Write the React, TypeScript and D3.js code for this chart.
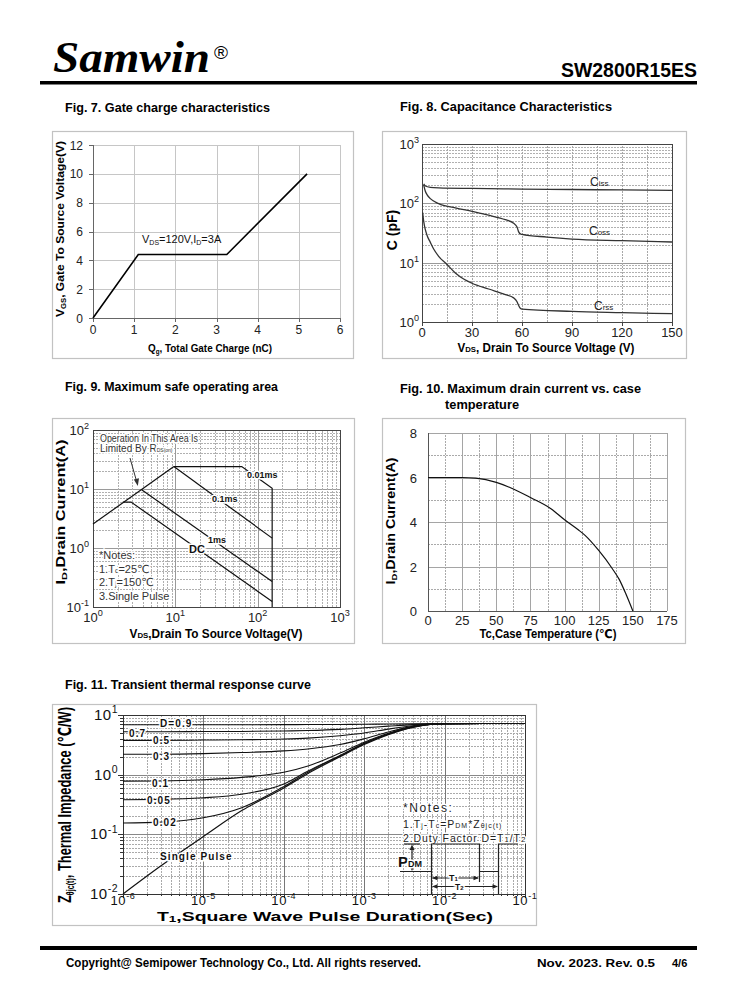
import React from "react";
import * as d3 from "d3";

const SANS = "'Liberation Sans', Arial, 'DejaVu Sans', sans-serif";
const SERIF = "'Liberation Serif', 'Times New Roman', serif";

// ---------- Fig. 7 : gate charge ----------
const gateCharge = [0, 1.1, 3.25, 5.2];
const gateVoltage = [0, 4.4, 4.4, 10];
const gateXTicks = [0, 1, 2, 3, 4, 5, 6];
const gateYTicks = [0, 2, 4, 6, 8, 10, 12];

// ---------- Fig. 8 : capacitance ----------
const cissVds = [1, 2, 5, 10, 30, 60, 90, 120, 150];
const cissCap = [212, 196, 186, 182, 178, 174, 171, 168, 165];
const cossVds = [1, 2, 3, 5, 10, 20, 30, 40, 50, 55, 57, 58, 59, 60, 75, 90, 120, 150];
const cossCap = [205, 160, 140, 120, 99, 84, 73, 63, 53, 46, 40, 33, 30.5, 30, 27, 25, 23.5, 22.3];
const crssVds = [0.4, 1, 2, 3, 5, 7, 10, 15, 20, 25, 30, 40, 50, 55, 57, 58, 59, 60, 90, 120, 150];
const crssCap = [70, 50, 36, 29, 22, 17, 12.8, 9.3, 6.7, 5.3, 4.5, 3.6, 2.9, 2.55, 2.2, 1.9, 1.7, 1.65, 1.51, 1.44, 1.38];
const capXTicks = [0, 30, 60, 90, 120, 150];
const capYExps = [0, 1, 2, 3];

// ---------- Fig. 9 : safe operating area ----------
const rdsLimitVds = [1, 9.6];
const rdsLimitId = [2.55, 24];
const pulse10usVds = [9.6, 64, 150, 150];
const pulse10usId = [24, 24, 10.3, 0.1];
const pulse100usVds = [9.6, 150];
const pulse100usId = [24, 1.47];
const pulse1msVds = [3.9, 150];
const pulse1msId = [9.7, 0.27];
const dcVds = [2.3, 2.9, 150];
const dcId = [6, 6, 0.124];
const soaXExps = [0, 1, 2, 3];
const soaYExps = [-1, 0, 1, 2];

// ---------- Fig. 10 : drain current vs case temperature ----------
const caseTemp = [0, 25, 35, 50, 60, 75, 90, 100, 110, 115, 125, 135, 140, 145, 150];
const drainCurrent = [6, 6, 5.97, 5.78, 5.55, 5.1, 4.6, 4.1, 3.65, 3.4, 2.72, 1.9, 1.42, 0.75, 0];
const tempXTicks = [0, 25, 50, 75, 100, 125, 150, 175];
const tempYTicks = [0, 2, 4, 6, 8];

// ---------- Fig. 11 : transient thermal impedance ----------
const pulseTime = [1e-6, 3e-6, 1e-5, 3e-5, 1e-4, 2e-4, 5e-4, 1e-3, 2e-3, 4e-3, 7e-3, 1e-2, 3e-2, 1e-1];
const zSingle = [0.01, 0.03, 0.092, 0.25, 0.6, 1.05, 2.0, 3.2, 4.7, 6.2, 7.0, 7.15, 7.2, 7.2];
const zD002 = [0.155, 0.16, 0.19, 0.28, 0.63, 1.1, 2.05, 3.3, 4.8, 6.25, 7.0, 7.15, 7.2, 7.2];
const zD005 = [0.38, 0.385, 0.41, 0.47, 0.7, 1.15, 2.1, 3.35, 4.85, 6.3, 7.0, 7.15, 7.2, 7.2];
const zD01 = [0.78, 0.785, 0.82, 0.9, 1.1, 1.4, 2.3, 3.5, 4.95, 6.35, 7.05, 7.15, 7.2, 7.2];
const zD03 = [2.2, 2.2, 2.25, 2.35, 2.5, 2.7, 3.2, 4.0, 5.2, 6.45, 7.05, 7.15, 7.2, 7.2];
const zD05 = [3.75, 3.75, 3.8, 3.85, 3.95, 4.1, 4.5, 5.0, 5.8, 6.6, 7.1, 7.15, 7.2, 7.2];
const zD07 = [5.25, 5.25, 5.28, 5.3, 5.4, 5.5, 5.75, 6.1, 6.5, 6.9, 7.1, 7.15, 7.2, 7.2];
const zD09 = [6.85, 6.85, 6.85, 6.87, 6.9, 6.92, 6.95, 7.0, 7.05, 7.1, 7.15, 7.18, 7.2, 7.2];
const zthXExps = [-6, -5, -4, -3, -2, -1];
const zthYExps = [-2, -1, 0, 1];
const dutyLabels = ["D=0.9", "0.7", "0.5", "0.3", "0.1", "0.05", "0.02", "Single Pulse"];

const p = (v: number) => Math.round(v) + 0.5;

function logValues(lo: number, hi: number) {
  const out: { v: number; major: boolean }[] = [];
  const e0 = Math.round(Math.log10(lo));
  const e1 = Math.round(Math.log10(hi));
  for (let e = e0; e < e1; e++) {
    for (let k = 1; k < 10; k++) out.push({ v: k * Math.pow(10, e), major: k === 1 });
  }
  out.push({ v: hi, major: true });
  return out;
}

const Pow = ({ exp, size }: { exp: number; size: number }) => (
  <>
    10
    <tspan dy={-size * 0.45} fontSize={size * 0.7}>
      {exp}
    </tspan>
  </>
);

function Title({ x, y, w, children }: any) {
  return (
    <text x={x} y={y} fontFamily={SANS} fontWeight="bold" fontSize={13} textLength={w} lengthAdjust="spacingAndGlyphs">
      {children}
    </text>
  );
}

function Box({ x, y, w, h }: any) {
  return <rect x={x + 0.5} y={y + 0.5} width={w} height={h} fill="#fff" stroke="#c2c2c2" strokeWidth={1.2} />;
}

function Fig7() {
  const x = d3.scaleLinear().domain([0, 6]).range([93, 340]);
  const y = d3.scaleLinear().domain([0, 12]).range([318, 145]);
  const line = d3
    .line<number>()
    .x((_, i) => x(gateCharge[i]))
    .y((d) => y(d));
  return (
    <g fontFamily={SANS}>
      {gateXTicks.map((t) => (
        <line key={"gx" + t} x1={p(x(t))} x2={p(x(t))} y1={y(0)} y2={y(12)} stroke="#c6c6c6" />
      ))}
      {gateYTicks.map((t) => (
        <line key={"gy" + t} x1={x(0)} x2={x(6)} y1={p(y(t))} y2={p(y(t))} stroke="#c6c6c6" />
      ))}
      <line x1={p(x(0))} x2={p(x(0))} y1={y(0)} y2={y(12)} stroke="#666" />
      <line x1={x(0)} x2={x(6)} y1={p(y(0))} y2={p(y(0))} stroke="#666" />
      {gateXTicks.map((t) => (
        <line key={"tx" + t} x1={p(x(t))} x2={p(x(t))} y1={y(0)} y2={y(0) + 4} stroke="#666" />
      ))}
      {gateYTicks.map((t) => (
        <line key={"ty" + t} x1={x(0) - 4} x2={x(0)} y1={p(y(t))} y2={p(y(t))} stroke="#666" />
      ))}
      <path d={line(gateVoltage) || ""} fill="none" stroke="#000" strokeWidth={1.6} />
      {gateXTicks.map((t) => (
        <text key={"lx" + t} x={x(t)} y={334} fontSize={12} textAnchor="middle" fill="#222">
          {t}
        </text>
      ))}
      {gateYTicks.map((t) => (
        <text key={"ly" + t} x={83} y={y(t) + 4.5} fontSize={12} textAnchor="end" fill="#222">
          {t}
        </text>
      ))}
      <text x={142} y={243} fontSize={11} fill="#111">
        V<tspan fontSize={7} dy={2}>DS</tspan>
        <tspan dy={-2}>=120V,I</tspan>
        <tspan fontSize={7} dy={2}>D</tspan>
        <tspan dy={-2}>=3A</tspan>
      </text>
      <text x={210} y={352} fontSize={11} fontWeight="bold" textAnchor="middle" textLength={124} lengthAdjust="spacingAndGlyphs">
        Q<tspan fontSize={7} dy={2}>g</tspan>
        <tspan dy={-2}>,  Total Gate Charge (nC)</tspan>
      </text>
      <text transform="translate(64,229) rotate(-90)" fontSize={11} fontWeight="bold" textAnchor="middle" textLength={176} lengthAdjust="spacingAndGlyphs">
        V<tspan fontSize={7} dy={2}>GS</tspan>
        <tspan dy={-2}>,  Gate To  Source Voltage(V)</tspan>
      </text>
    </g>
  );
}

function Fig8() {
  const x = d3.scaleLinear().domain([0, 150]).range([422, 672]);
  const y = d3.scaleLog().domain([1, 1000]).range([322, 144]);
  const mk = (xs: number[]) =>
    d3
      .line<number>()
      .x((_, i) => x(xs[i]))
      .y((d) => y(d))
      .curve(d3.curveMonotoneX);
  const minorX = d3.range(15, 150, 15);
  return (
    <g fontFamily={SANS}>
      {logValues(1, 1000).map(({ v, major }) => (
        <line key={"h" + v} x1={x(0)} x2={x(150)} y1={p(y(v))} y2={p(y(v))} stroke={major ? "#9a9a9a" : "#b0b0b0"} strokeDasharray={major ? undefined : "2,1"} />
      ))}
      {minorX.map((v) => (
        <line key={"v" + v} x1={p(x(v))} x2={p(x(v))} y1={y(1)} y2={y(1000)} stroke="#a8a8a8" strokeDasharray="2,1" />
      ))}
      <rect x={p(x(0))} y={p(y(1000))} width={Math.round(x(150) - x(0))} height={Math.round(y(1) - y(1000))} fill="none" stroke="#444" />
      {capXTicks.map((t) => (
        <line key={"tx" + t} x1={p(x(t))} x2={p(x(t))} y1={y(1)} y2={y(1) + 4} stroke="#444" />
      ))}
      <path d={mk(cissVds)(cissCap) || ""} fill="none" stroke="#333" strokeWidth={1.3} />
      <path d={mk(cossVds)(cossCap) || ""} fill="none" stroke="#333" strokeWidth={1.3} />
      <path d={mk(crssVds)(crssCap) || ""} fill="none" stroke="#333" strokeWidth={1.3} />
      {capXTicks.map((t) => (
        <text key={"lx" + t} x={x(t)} y={337} fontSize={13} textAnchor="middle" fill="#222">
          {t}
        </text>
      ))}
      {capYExps.map((e) => (
        <text key={"ly" + e} x={419} y={y(Math.pow(10, e)) + 5} fontSize={13} textAnchor="end" fill="#222">
          <Pow exp={e} size={13} />
        </text>
      ))}
      <text x={590} y={186} fontSize={12} fill="#222">
        C<tspan fontSize={8}>iss</tspan>
      </text>
      <text x={589} y={235} fontSize={12} fill="#222">
        C<tspan fontSize={8}>oss</tspan>
      </text>
      <text x={594} y={310} fontSize={12} fill="#222">
        C<tspan fontSize={8}>rss</tspan>
      </text>
      <text x={546} y={352} fontSize={12} fontWeight="bold" textAnchor="middle" textLength={177} lengthAdjust="spacingAndGlyphs">
        V<tspan fontSize={8}>DS</tspan>, Drain To Source Voltage (V)
      </text>
      <text transform="translate(397,230) rotate(-90)" fontSize={14} fontWeight="bold" textAnchor="middle">
        C (pF)
      </text>
    </g>
  );
}

function Fig9() {
  const x = d3.scaleLog().domain([1, 1000]).range([93, 340]);
  const y = d3.scaleLog().domain([0.1, 100]).range([607, 430]);
  const mk = (xs: number[]) =>
    d3
      .line<number>()
      .x((_, i) => x(xs[i]))
      .y((d) => y(d));
  const halo = { stroke: "#fff", strokeWidth: 3, paintOrder: "stroke" as any };
  return (
    <g fontFamily={SANS}>
      {logValues(0.1, 100).map(({ v, major }) => (
        <line key={"h" + v} x1={x(1)} x2={x(1000)} y1={p(y(v))} y2={p(y(v))} stroke={major ? "#9a9a9a" : "#b0b0b0"} strokeDasharray={major ? undefined : "2,1"} />
      ))}
      {logValues(1, 1000).map(({ v, major }) => (
        <line key={"v" + v} x1={p(x(v))} x2={p(x(v))} y1={y(0.1)} y2={y(100)} stroke={major ? "#9a9a9a" : "#b0b0b0"} strokeDasharray={major ? undefined : "2,1"} />
      ))}
      <rect x={p(x(1))} y={p(y(100))} width={Math.round(x(1000) - x(1))} height={Math.round(y(0.1) - y(100))} fill="none" stroke="#444" />
      <path d={mk(rdsLimitVds)(rdsLimitId) || ""} fill="none" stroke="#111" strokeWidth={1.2} />
      <path d={mk(pulse10usVds)(pulse10usId) || ""} fill="none" stroke="#111" strokeWidth={1.2} />
      <path d={mk(pulse100usVds)(pulse100usId) || ""} fill="none" stroke="#111" strokeWidth={1.2} />
      <path d={mk(pulse1msVds)(pulse1msId) || ""} fill="none" stroke="#111" strokeWidth={1.2} />
      <path d={mk(dcVds)(dcId) || ""} fill="none" stroke="#111" strokeWidth={1.2} />
      {soaXExps.map((e) => (
        <text key={"lx" + e} x={x(Math.pow(10, e))} y={622} fontSize={13} textAnchor="middle" fill="#222">
          <Pow exp={e} size={13} />
        </text>
      ))}
      {soaYExps.map((e) => (
        <text key={"ly" + e} x={89} y={y(Math.pow(10, e)) + 5} fontSize={13} textAnchor="end" fill="#222">
          <Pow exp={e} size={13} />
        </text>
      ))}
      <g fontSize={10} fill="#333" {...halo}>
        <text x={100} y={442} textLength={98} lengthAdjust="spacingAndGlyphs">Operation In This Area Is</text>
        <text x={100} y={452}>
          Limited By R<tspan fontSize={5}>DS(on)</tspan>
        </text>
      </g>
      <line x1={130} y1={458} x2={136.5} y2={481} stroke="#333" strokeWidth={1} />
      <path d="M137.8,486 L133.8,479.5 L139,478.3 Z" fill="#333" />
      <g fontWeight="bold" fill="#111" {...halo}>
        <text x={247} y={478} fontSize={9}>0.01ms</text>
        <text x={212} y={502} fontSize={9}>0.1ms</text>
        <text x={208} y={543} fontSize={9}>1ms</text>
        <text x={189} y={553} fontSize={11}>DC</text>
      </g>
      <g fontSize={11} fill="#333" {...halo}>
        <text x={99} y={559}>*Notes:</text>
        <text x={99} y={573}>
          1.T<tspan fontSize={7}>c</tspan>=25℃
        </text>
        <text x={99} y={586}>
          2.T<tspan fontSize={7}>j</tspan>=150℃
        </text>
        <text x={99} y={600}>3.Single Pulse</text>
      </g>
      <text x={216} y={638} fontSize={12} fontWeight="bold" textAnchor="middle" textLength={173} lengthAdjust="spacingAndGlyphs">
        V<tspan fontSize={8}>DS</tspan>,Drain To Source Voltage(V)
      </text>
      <text transform="translate(65,512) rotate(-90)" fontSize={12} fontWeight="bold" textAnchor="middle" textLength={145} lengthAdjust="spacingAndGlyphs">
        I<tspan fontSize={8} dy={2}>D</tspan>
        <tspan dy={-2}>,Drain Current(A)</tspan>
      </text>
    </g>
  );
}

function Fig10() {
  const x = d3.scaleLinear().domain([0, 175]).range([428, 667]);
  const y = d3.scaleLinear().domain([0, 8]).range([611, 433]);
  const line = d3
    .line<number>()
    .x((_, i) => x(caseTemp[i]))
    .y((d) => y(d))
    .curve(d3.curveMonotoneX);
  const minorX = tempXTicks.slice(0, -1).map((t) => t + 12.5);
  const minorY = [1, 3, 5, 7];
  return (
    <g fontFamily={SANS}>
      {minorX.map((t) => (
        <line key={"mx" + t} x1={p(x(t))} x2={p(x(t))} y1={y(0)} y2={y(8)} stroke="#aaa" strokeDasharray="2,1" />
      ))}
      {minorY.map((t) => (
        <line key={"my" + t} x1={x(0)} x2={x(175)} y1={p(y(t))} y2={p(y(t))} stroke="#aaa" strokeDasharray="2,1" />
      ))}
      {tempXTicks.map((t) => (
        <line key={"gx" + t} x1={p(x(t))} x2={p(x(t))} y1={y(0)} y2={y(8)} stroke="#a5a5a5" />
      ))}
      {tempYTicks.map((t) => (
        <line key={"gy" + t} x1={x(0)} x2={x(175)} y1={p(y(t))} y2={p(y(t))} stroke="#a5a5a5" />
      ))}
      <line x1={p(x(0))} x2={p(x(0))} y1={y(0)} y2={y(8)} stroke="#555" />
      <line x1={x(0)} x2={x(175)} y1={p(y(0))} y2={p(y(0))} stroke="#555" />
      <path d={line(drainCurrent) || ""} fill="none" stroke="#111" strokeWidth={1.2} />
      {tempXTicks.map((t) => (
        <text key={"lx" + t} x={x(t)} y={625} fontSize={13} textAnchor="middle" fill="#222">
          {t}
        </text>
      ))}
      {tempYTicks.map((t) => (
        <text key={"ly" + t} x={417} y={y(t) + 5} fontSize={13} textAnchor="end" fill="#222">
          {t}
        </text>
      ))}
      <text x={548} y={638} fontSize={12} fontWeight="bold" textAnchor="middle" textLength={137} lengthAdjust="spacingAndGlyphs">
        Tc,Case Temperature (℃)
      </text>
      <text transform="translate(395,521) rotate(-90)" fontSize={12} fontWeight="bold" textAnchor="middle" textLength={127} lengthAdjust="spacingAndGlyphs">
        I<tspan fontSize={8} dy={2}>D</tspan>
        <tspan dy={-2}>,Drain Current(A)</tspan>
      </text>
    </g>
  );
}

function Fig11() {
  const x = d3.scaleLog().domain([1e-6, 1e-1]).range([123, 525]);
  const y = d3.scaleLog().domain([0.01, 10]).range([894, 715]);
  const line = d3
    .line<number>()
    .x((_, i) => x(pulseTime[i]))
    .y((d) => y(d))
    .curve(d3.curveMonotoneX);
  const series = [zD09, zD07, zD05, zD03, zD01, zD005, zD002, zSingle];
  const labelPos = [
    [160, 727],
    [129, 737],
    [153, 743.5],
    [153, 759.5],
    [152, 787],
    [147, 803.5],
    [153, 826],
    [160, 860],
  ];
  const halo = { stroke: "#fff", strokeWidth: 3, paintOrder: "stroke" as any };
  return (
    <g fontFamily={SANS}>
      {logValues(0.01, 10).map(({ v, major }) => (
        <line key={"h" + v} x1={x(1e-6)} x2={x(1e-1)} y1={p(y(v))} y2={p(y(v))} stroke={major ? "#888" : "#aaa"} strokeDasharray={major ? undefined : "2,1"} />
      ))}
      {logValues(1e-6, 1e-1).map(({ v, major }) => (
        <line key={"v" + v} x1={p(x(v))} x2={p(x(v))} y1={y(0.01)} y2={y(10)} stroke={major ? "#777" : "#aaa"} strokeDasharray={major ? undefined : "2,1"} />
      ))}
      <rect x={p(x(1e-6))} y={p(y(10))} width={Math.round(x(1e-1) - x(1e-6))} height={Math.round(y(0.01) - y(10))} fill="none" stroke="#333" />
      {logValues(0.01, 10).map(({ v, major }) => (
        <line key={"ty" + v} x1={x(1e-6) - (major ? 5 : 3)} x2={x(1e-6)} y1={p(y(v))} y2={p(y(v))} stroke="#333" />
      ))}
      {logValues(1e-6, 1e-1).map(({ v, major }) => (
        <line key={"tx" + v} x1={p(x(v))} x2={p(x(v))} y1={y(0.01)} y2={y(0.01) + (major ? 4 : 2)} stroke="#333" />
      ))}
      {series.map((s, i) => (
        <path key={"s" + i} d={line(s) || ""} fill="none" stroke="#111" strokeWidth={i === 7 ? 1.2 : 1.1} />
      ))}
      <g fontSize={10} fontWeight="bold" fill="#111" letterSpacing={1.1} {...halo}>
        {dutyLabels.map((t, i) => (
          <text key={t} x={labelPos[i][0]} y={labelPos[i][1]}>
            {t}
          </text>
        ))}
      </g>
      <g fontSize={10.5} fill="#222" {...halo}>
        <text x={403} y={812} fontSize={12} letterSpacing={1.6}>*Notes:</text>
        <text x={403} y={828} letterSpacing={1}>
          1.T<tspan fontSize={7}>j</tspan>-T<tspan fontSize={7}>c</tspan>=P<tspan fontSize={7}>DM</tspan>*Z<tspan fontSize={7}>θjc(t)</tspan>
        </text>
        <text x={403} y={842} letterSpacing={0.9}>
          2.Duty Factor D=T<tspan fontSize={8}>1</tspan>/T<tspan fontSize={8}>2</tspan>
        </text>
      </g>
      {/* PDM pulse diagram */}
      <g stroke="#222" strokeWidth={1.2} fill="none">
        <path d="M400,871.5 H431.5 V844 H479.5 V871.5 H498.5 V844 H518" />
        <line x1={431.5} y1={871.5} x2={431.5} y2={894} />
        <line x1={479.5} y1={871.5} x2={479.5} y2={882} />
        <line x1={498.5} y1={871.5} x2={498.5} y2={894} />
        <line x1={404} y1={844} x2={420} y2={844} />
        <line x1={412} y1={847} x2={412} y2={868} />
        <line x1={433} y1={878} x2={478} y2={878} />
        <line x1={433} y1={886.5} x2={497} y2={886.5} />
      </g>
      <g fill="#222">
        <path d="M412,844.5 L409.5,850 L414.5,850 Z" />
        <path d="M412,871 L409.5,865.5 L414.5,865.5 Z" />
        <path d="M432,878 L437.5,875.8 L437.5,880.2 Z" />
        <path d="M479,878 L473.5,875.8 L473.5,880.2 Z" />
        <path d="M432,886.5 L437.5,884.3 L437.5,888.7 Z" />
        <path d="M498,886.5 L492.5,884.3 L492.5,888.7 Z" />
      </g>
      <g fontWeight="bold" fill="#111" {...halo}>
        <text x={398} y={867} fontSize={15}>
          P<tspan fontSize={9}>DM</tspan>
        </text>
        <text x={449} y={881} fontSize={9}>
          T<tspan fontSize={6}>1</tspan>
        </text>
        <text x={455} y={890} fontSize={8.5}>
          T<tspan fontSize={6}>2</tspan>
        </text>
      </g>
      {zthXExps.map((e) => (
        <text key={"lx" + e} x={x(Math.pow(10, e))} y={905} fontSize={13} textAnchor="middle" fill="#111" letterSpacing={0.6}>
          <Pow exp={e} size={13} />
        </text>
      ))}
      {zthYExps.map((e) => (
        <text key={"ly" + e} x={118} y={y(Math.pow(10, e)) + 5} fontSize={15} textAnchor="end" fill="#111" letterSpacing={0.5}>
          <Pow exp={e} size={15} />
        </text>
      ))}
      <text x={325} y={921} fontSize={13} fontWeight="bold" textAnchor="middle" textLength={336} lengthAdjust="spacingAndGlyphs">
        T<tspan fontSize={9} dy={1}>1</tspan>
        <tspan dy={-1}>,Square Wave Pulse Duration(Sec)</tspan>
      </text>
      <text transform="translate(71,805) rotate(-90)" fontSize={18} fontWeight="bold" textAnchor="middle" textLength={196} lengthAdjust="spacingAndGlyphs">
        Z<tspan fontSize={10} dy={3}>θjc(t)</tspan>
        <tspan dy={-3}>, Thermal Impedance (℃/W)</tspan>
      </text>
    </g>
  );
}

export default function App() {
  return (
    <svg width={738} height={1000} viewBox="0 0 738 1000" style={{ position: "absolute", left: 0, top: 0, background: "#fff" }}>
      <rect x={0} y={0} width={738} height={1000} fill="#fff" />
      {/* header */}
      <text x={53} y={72} fontFamily={SERIF} fontWeight="bold" fontStyle="italic" fontSize={44} textLength={157} lengthAdjust="spacingAndGlyphs">
        Samwin
      </text>
      <text x={214} y={59} fontFamily={SANS} fontSize={19}>
        ®
      </text>
      <text x={697} y={77} fontFamily={SANS} fontWeight="bold" fontSize={20} textAnchor="end" textLength={136} lengthAdjust="spacingAndGlyphs">
        SW2800R15ES
      </text>
      <rect x={40} y={81} width={657} height={3.5} fill="#000" />

      <Title x={65} y={112} w={205}>Fig. 7. Gate charge characteristics</Title>
      <Title x={400} y={111} w={212}>Fig. 8. Capacitance Characteristics</Title>
      <Title x={65} y={391} w={213}>Fig. 9. Maximum safe operating area</Title>
      <Title x={400} y={393} w={241}>Fig. 10. Maximum drain current vs. case</Title>
      <Title x={445} y={409} w={74}>temperature</Title>
      <Title x={65} y={689} w={246}>Fig. 11. Transient thermal response curve</Title>

      <Box x={52} y={131} w={301} h={227} />
      <Box x={382} y={131} w={304} h={227} />
      <Box x={52} y={418} w={302} h={225} />
      <Box x={382} y={418} w={303} h={225} />
      <Box x={52} y={704} w={484} h={221} />

      <Fig7 />
      <Fig8 />
      <Fig9 />
      <Fig10 />
      <Fig11 />

      {/* footer */}
      <rect x={40} y={946} width={657} height={4} fill="#000" />
      <text x={66} y={967} fontFamily={SANS} fontWeight="bold" fontSize={12} textLength={355} lengthAdjust="spacingAndGlyphs">
        Copyright@ Semipower Technology Co., Ltd. All rights reserved.
      </text>
      <text x={537} y={967} fontFamily={SANS} fontWeight="bold" fontSize={11} textLength={118} lengthAdjust="spacingAndGlyphs">
        Nov. 2023. Rev. 0.5
      </text>
      <text x={672} y={967} fontFamily={SANS} fontWeight="bold" fontSize={11}>
        4/6
      </text>
    </svg>
  );
}
